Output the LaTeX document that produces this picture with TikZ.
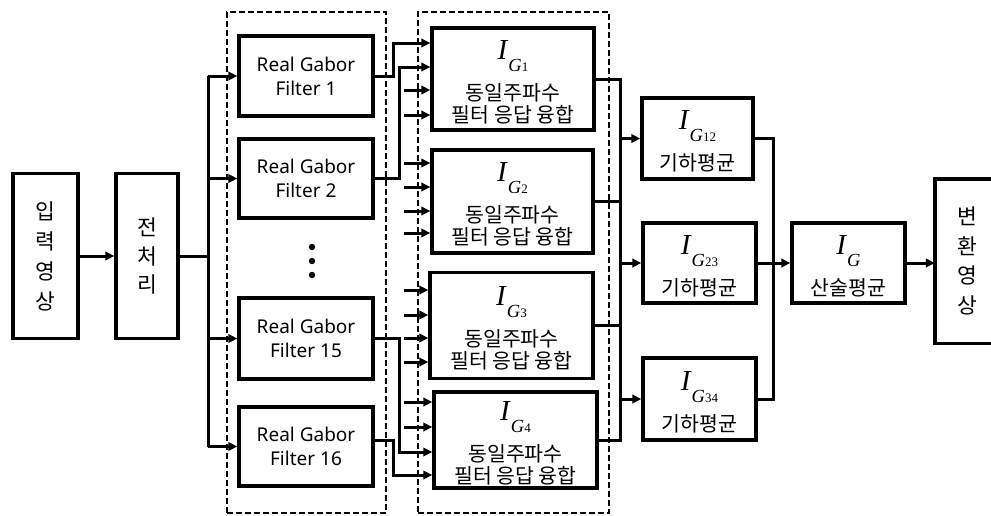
\documentclass[tikz,border=0pt]{standalone}
\usepackage{fontspec}
\setmainfont{Noto Sans}
\newfontfamily\kr{Noto Sans CJK KR}
\newfontfamily\tnr{Liberation Serif}
\usetikzlibrary{arrows.meta}
\newcommand\igl[1]{{\tnr\itshape\fontsize{29}{29}\selectfont I}\kern1pt\raisebox{-12pt}{\tnr\itshape\fontsize{18.5}{18.5}\selectfont G\kern0.3pt\upshape\fontsize{13}{13}\selectfont #1}}
\tikzset{
  boxn/.style={draw, line width=3.4pt, inner sep=0pt},
  conn/.style={line width=3pt},
  arr/.style={conn, -{Triangle[length=9pt,width=8.5pt]}},
  dbox/.style={draw, line width=2.8pt, dash pattern=on 6pt off 3pt, inner sep=0pt},
  krt/.style={font=\kr\fontsize{20.5}{24}\selectfont, inner sep=0pt},
  vtxt/.style={font=\kr\fontsize{21.5}{30}\selectfont, align=center},
  ftxt/.style={font=\fontsize{19}{24}\selectfont, align=center},
}
\begin{document}
\begin{tikzpicture}[x=1pt,y=-1pt]
\useasboundingbox (0,0) rectangle (991,515);
% dashed groups
\node[dbox, minimum width=159, minimum height=501] (grpA) at (306.5,262.5) {};
\node[dbox, minimum width=191, minimum height=501] (grpB) at (513.5,262.5) {};
% input & preprocessing
\node[boxn, vtxt, minimum width=65, minimum height=165] (inp) at (45.5,256) {입\\력\\영\\상};
\node[boxn, vtxt, minimum width=62, minimum height=165, font=\kr\fontsize{21.5}{28.5}\selectfont] (pre) at (147,256) {전\\처\\리};
% filters
\node[boxn, ftxt, minimum width=134, minimum height=80] (f1) at (306,76) {Real Gabor\\Filter 1};
\node[boxn, ftxt, minimum width=134, minimum height=79] (f2) at (306,178.5) {Real Gabor\\Filter 2};
\node[boxn, ftxt, minimum width=134, minimum height=81] (f15) at (306,338.5) {Real Gabor\\Filter 15};
\node[boxn, ftxt, minimum width=134, minimum height=79] (f16) at (306,446.5) {Real Gabor\\Filter 16};
\foreach \i/\y in {1/247,2/261,3/275} \fill (312,\y) circle (3.2) coordinate (dot\i);
% fusion boxes
\node[boxn, minimum width=162, minimum height=102] (g1) at (513,79) {};
\node[boxn, minimum width=161, minimum height=103] (g2) at (512.5,201.5) {};
\node[boxn, minimum width=163, minimum height=106] (g3) at (511.5,325.5) {};
\node[boxn, minimum width=163, minimum height=96] (g4) at (515.5,440) {};
\foreach \g/\n in {g1/1,g2/2,g3/3,g4/4}{
  \node[anchor=base, inner sep=0pt] (\g i) at ([yshift=20pt]\g.center) {\igl{\n}};
  \node[krt, anchor=base] (\g a) at ([yshift=-21pt]\g.center) {동일주파수};
  \node[krt, anchor=base] (\g b) at ([yshift=-43pt]\g.center) {필터 응답 융합};
}
% geometric mean boxes
\node[boxn, minimum width=111, minimum height=81] (g12) at (697.5,138.5) {};
\node[boxn, minimum width=113, minimum height=80] (g23) at (699.5,263) {};
\node[boxn, minimum width=113, minimum height=82] (g34) at (699.5,399) {};
\node[boxn, minimum width=113, minimum height=80] (g) at (848.5,263) {};
\foreach \g/\n in {g12/12,g23/23,g34/34}{
  \node[anchor=base, inner sep=0pt] (\g i) at ([yshift=9pt]\g.center) {\igl{\n}};
  \node[krt, anchor=base] (\g a) at ([yshift=-32pt]\g.center) {기하평균};
}
\node[anchor=base, inner sep=0pt] (gi) at ([yshift=9pt]g.center) {\igl{}};
\node[krt, anchor=base] (ga) at ([yshift=-32pt]g.center) {산술평균};
% output box (cut at right edge)
\node[vtxt, minimum width=64, minimum height=164, font=\kr\fontsize{21.5}{29.5}\selectfont] (out) at (967,261) {변\\환\\영\\상};
\draw[line width=3.4pt] (out.north west -| 991,0) -- (out.north west) -- (out.south west) -- (out.south west -| 991,0);
% connectors: input side
\draw[arr] (inp) -- (pre);
\coordinate (bus) at (208,0);
\draw[conn] (pre.east) -- (pre.east -| bus);
\draw[conn] (f1.west -| bus) -- (f16.west -| bus);
\foreach \f in {f1,f2,f15,f16} \draw[arr] (\f.west -| bus) -- (\f.west);
% filters to fusion
\draw[arr] (f1.east) -- (f1.east -| 393,0) |- (g1.west |- 0,43);
\draw[arr] (f2.east) -- (f2.east -| 399,0) |- (g1.west |- 0,67);
\draw[arr] (f15.east) -- (f15.east -| 399,0) |- (g4.west |- 0,452);
\draw[arr] (f16.east |- 0,440) -- (393,440) |- (g4.west |- 0,475);
\foreach \y/\g in {90/g1,115/g1,163/g2,187/g2,211/g2,233/g2,290/g3,315/g3,338/g3,362/g3,402/g4,427/g4}{
  \coordinate (s\y) at (404,\y);
  \draw[arr] (s\y) -- (\g.west |- s\y);
}
% fusion to geometric means
\coordinate (jx) at (620,0);
\draw[conn] (g1.east) -- (g1.east -| jx) -- (g4.east -| jx) -- (g4.east);
\draw[conn] (g2.east) -- (g2.east -| jx);
\draw[conn] (g3.east) -- (g3.east -| jx);
\draw[arr] (g12.west -| jx) -- (g12.west);
\draw[arr] (g23.west -| jx) -- (g23.west);
\draw[arr] (g34.west -| jx) -- (g34.west);
% geometric means to arithmetic mean
\coordinate (jy) at (773,0);
\draw[conn] (g12.east) -- (g12.east -| jy) -- (g34.east -| jy) -- (g34.east);
\draw[arr] (g23.east) -- (g.west);
\draw[arr] (g.east) -- (out.west |- g.east);
\end{tikzpicture}
\end{document}
